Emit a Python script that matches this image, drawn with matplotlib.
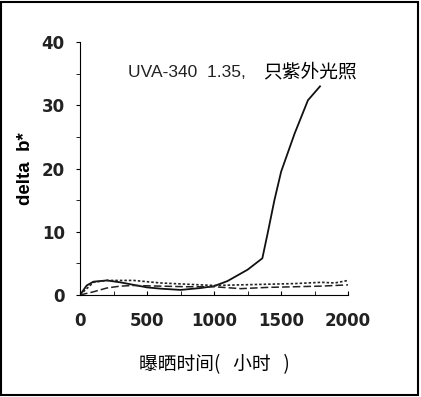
import matplotlib
matplotlib.use('Agg')
import matplotlib.pyplot as plt
from matplotlib.ticker import MultipleLocator

plt.rcParams['font.family'] = ['Liberation Sans', 'Noto Sans CJK SC', 'DejaVu Sans']

# solid line
x_solid = [0, 50, 100, 200, 300, 400, 500, 600, 750, 900, 1000, 1100, 1250, 1360, 1400, 1450, 1500, 1600, 1700, 1790]
y_solid = [0, 1.5, 2.1, 2.3, 2.0, 1.6, 1.2, 1.0, 0.8, 1.1, 1.4, 2.2, 4.0, 5.8, 9.8, 15, 19.5, 25.5, 30.8, 33]

# dotted line
x_dot = [0, 100, 200, 400, 600, 800, 1000, 1200, 1400, 1600, 1800, 1900, 2000]
y_dot = [0, 2.0, 2.3, 2.3, 1.9, 1.7, 1.5, 1.6, 1.7, 1.8, 2.0, 1.9, 2.3]

# dashed line
x_dash = [0, 100, 200, 300, 400, 600, 800, 1000, 1200, 1400, 1600, 1800, 2000]
y_dash = [0, 0.5, 1.1, 1.4, 1.5, 1.4, 1.3, 1.3, 1.0, 1.2, 1.3, 1.4, 1.6]

fig = plt.figure(figsize=(4.21, 3.97), dpi=100)
ax = fig.add_axes([0.19, 0.257, 0.637, 0.637])

ax.plot(x_solid, y_solid, color='#111111', lw=1.3)
ax.plot(x_dot, y_dot, color='#222222', lw=1.2, linestyle=(0, (1.5, 1.2)))
ax.plot(x_dash, y_dash, color='#222222', lw=1.1, linestyle=(0, (5, 2)))

ax.set_xlim(0, 2000)
ax.set_ylim(0, 40)
ax.xaxis.set_major_locator(MultipleLocator(500))
ax.xaxis.set_minor_locator(MultipleLocator(250))
ax.yaxis.set_major_locator(MultipleLocator(10))
ax.yaxis.set_minor_locator(MultipleLocator(5))
ax.tick_params(axis='x', which='both', direction='in', length=3, pad=12)
ax.tick_params(axis='y', which='both', direction='out', length=3, pad=8)
for lab in ax.get_xticklabels() + ax.get_yticklabels():
    lab.set_fontfamily('DejaVu Sans')
    lab.set_fontweight('bold')
    lab.set_fontsize(12)
    lab.set_color('#222222')

ax.spines['top'].set_visible(False)
ax.spines['right'].set_visible(False)

ax.set_ylabel('delta  b*', fontsize=13.5, fontweight='bold')
ax.yaxis.set_label_coords(-0.17, 0.5)
ax.set_xlabel('曝晒时间(   小时   )', fontsize=13.5, family=['Noto Sans CJK SC', 'DejaVu Sans'])
ax.xaxis.set_label_coords(0.5, -0.232)
ax.text(0.179, 0.881, 'UVA-340  1.35,', transform=ax.transAxes,
        fontsize=12.5, ha='left', va='center', color='#222222')
ax.text(0.683, 0.881, '只紫外光照', transform=ax.transAxes,
        fontsize=13.5, ha='left', va='center', family=['Noto Sans CJK SC', 'DejaVu Sans'])

fig.patches.append(plt.Rectangle((0.003, 0.004), 0.99, 0.99, transform=fig.transFigure,
                                 fill=False, edgecolor='black', lw=1.5))

plt.savefig('out.png', dpi=100)
